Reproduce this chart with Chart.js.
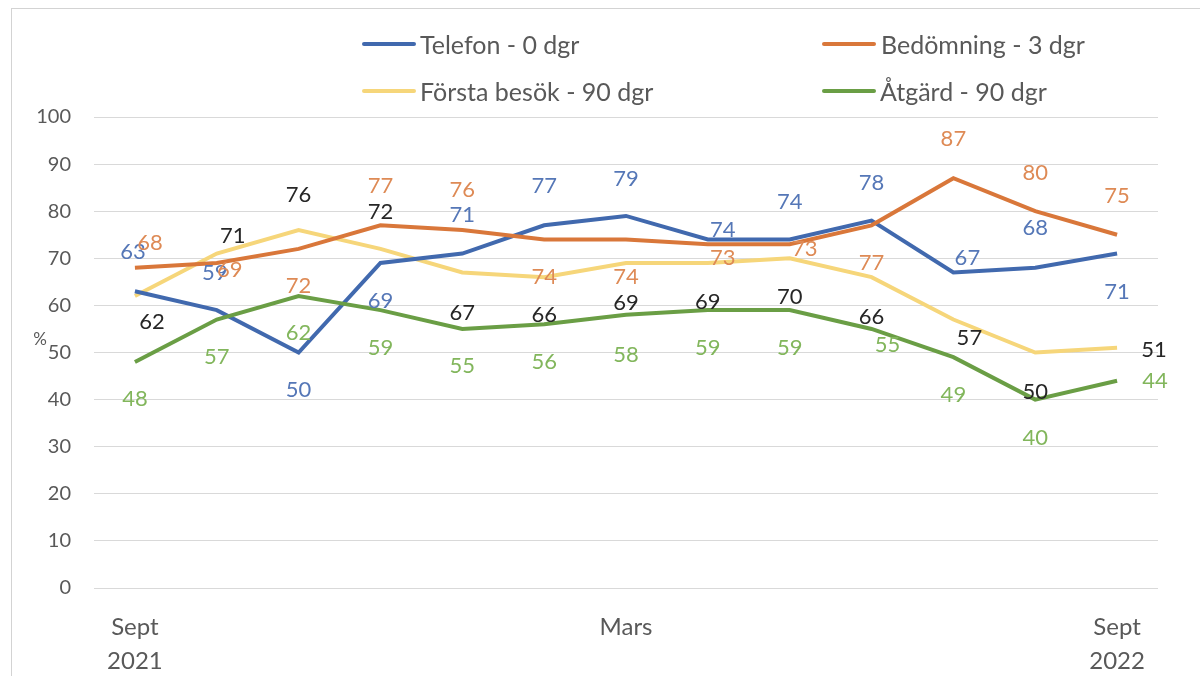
<!DOCTYPE html>
<html>
<head>
<meta charset="utf-8">
<script src="https://cdn.jsdelivr.net/npm/chart.js@4/dist/chart.umd.min.js"></script>
<style>
  html, body { margin: 0; padding: 0; background: #fff; overflow: hidden; }
  #wrap { position: relative; width: 1200px; height: 676px; }
  #frame { position: absolute; left: 11px; top: 8px; width: 1200px; height: 700px; border: 1px solid #d3d3d3; box-sizing: border-box; }
  canvas { position: absolute; left: 0; top: 0; }
  .lg { position: absolute; font-family: Lato, "Open Sans", sans-serif; font-size: 25px; color: #595959; line-height: 30px; white-space: nowrap; }
  .sw { position: absolute; height: 4px; border-radius: 2px; }
</style>
</head>
<body>
<div id="wrap">
  <div id="frame"></div>
  <canvas id="c" width="1200" height="676"></canvas>
  <div class="sw" style="left:362px;top:42px;width:54px;background:#4169AE"></div>
  <div class="lg" style="left:420px;top:29px">Telefon - 0 dgr</div>
  <div class="sw" style="left:822px;top:42px;width:54px;background:#D9773A"></div>
  <div class="lg" style="left:881px;top:29px">Bedömning - 3 dgr</div>
  <div class="sw" style="left:362px;top:89px;width:54px;background:#F6D67A"></div>
  <div class="lg" style="left:420px;top:76px">Första besök - 90 dgr</div>
  <div class="sw" style="left:822px;top:89px;width:54px;background:#6A9E45"></div>
  <div class="lg" style="left:880px;top:76px">Åtgärd - 90 dgr</div>
</div>
<script>
const categories = ["Sep 2021","Okt","Nov","Dec","Jan","Feb","Mars","Apr","Maj","Jun","Jul","Aug","Sep 2022"];
const xTickLabels = [["Sept","2021"],"","","","","","Mars","","","","","",["Sept","2022"]];
const yTicks = [0,10,20,30,40,50,60,70,80,90,100];

const telefon    = [63,59,50,69,71,77,79,74,74,78,67,68,71];
const bedomning  = [68,69,72,77,76,74,74,73,73,77,87,80,75];
const forstaBesok= [62,71,76,72,67,66,69,69,70,66,57,50,51];
const atgard     = [48,57,62,59,55,56,58,59,59,55,49,40,44];

const seriesNames = ["Telefon - 0 dgr","Bedömning - 3 dgr","Första besök - 90 dgr","Åtgärd - 90 dgr"];

// label placement (pixel offsets relative to each point), styling only
const labelOffsets = [
  [[-2,-39],[-2,-37],[0,37],[0,38],[0,-39],[0,-39],[0,-37],[15,-10],[0,-38],[0,-38],[14,-15],[0,-40],[0,38]],
  [[15,-25],[13,7],[0,37],[0,-39],[0,-40],[0,37],[0,37],[15,14],[15,5],[0,38],[0,-39],[0,-38],[0,-39]],
  [[17,26],[16,-18],[0,-35],[0,-37],[0,40],[0,38],[0,40],[0,39],[0,39],[0,40],[16,18],[0,39],[37,2]],
  [[0,37],[0,37],[0,37],[0,38],[0,37],[0,38],[0,40],[0,38],[0,38],[16,16],[0,38],[0,38],[38,0]]
];
const lineColors  = ["#4169AE","#D9773A","#F6D67A","#6A9E45"];
const labelColors = ["#5577B7","#DE8A55","#262626","#82B65C"];

const FONT = "Lato, 'Open Sans', sans-serif";

const labelPlugin = {
  id: 'pointLabels',
  afterDatasetsDraw(chart) {
    const ctx = chart.ctx;
    ctx.save();
    ctx.font = "22px " + FONT;
    ctx.textAlign = 'center';
    ctx.textBaseline = 'middle';
    chart.data.datasets.forEach((ds, di) => {
      const meta = chart.getDatasetMeta(di);
      meta.data.forEach((pt, i) => {
        const off = labelOffsets[di][i];
        ctx.fillStyle = labelColors[di];
        ctx.fillText(String(ds.data[i]), pt.x + off[0], pt.y + off[1]);
      });
    });
    // y axis title
    ctx.font = "17px " + FONT;
    ctx.fillStyle = '#595959';
    ctx.fillText('%', 40, 340);
    ctx.restore();
  }
};

const dataSeries = [telefon, bedomning, forstaBesok, atgard];
const drawOrder = [2, 0, 3, 1];

new Chart(document.getElementById('c'), {
  type: 'line',
  data: {
    labels: categories,
    datasets: dataSeries.map((d, i) => ({
      label: seriesNames[i],
      data: d,
      borderColor: lineColors[i],
      backgroundColor: lineColors[i],
      borderWidth: 4,
      pointRadius: 0,
      tension: 0,
      fill: false,
      order: drawOrder[i]
    }))
  },
  options: {
    responsive: false,
    animation: false,
    devicePixelRatio: 1,
    layout: { padding: { top: 117, right: 42, bottom: 0, left: 0 } },
    plugins: { legend: { display: false }, tooltip: { enabled: false } },
    scales: {
      x: {
        offset: true,
        grid: { display: false, drawTicks: false },
        border: { display: false },
        ticks: {
          autoSkip: false, maxRotation: 0, minRotation: 0,
          padding: 22,
          color: '#595959',
          font: { family: FONT, size: 24, lineHeight: '34px' },
          callback: (v, i) => xTickLabels[i]
        },
        afterFit: s => { s.height = 88; }
      },
      y: {
        min: 0, max: 100,
        afterBuildTicks: s => { s.ticks = yTicks.map(v => ({ value: v })); },
        grid: { color: '#d9d9d9', lineWidth: 1, drawTicks: false },
        border: { display: false },
        ticks: { padding: 23, color: '#595959', font: { family: FONT, size: 20 } },
        afterFit: s => { s.width = 94; }
      }
    }
  },
  plugins: [labelPlugin]
});
</script>
</body>
</html>
